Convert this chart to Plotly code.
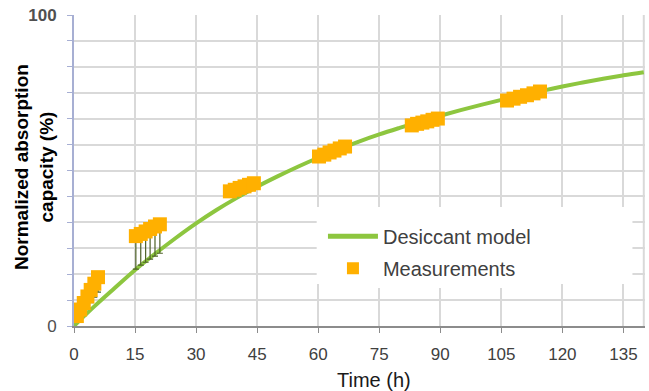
import plotly.graph_objects as go

# Desiccant model curve
model_t = [0, 5, 10, 15, 20, 25, 30, 35, 40, 45, 50, 55, 60, 65, 70, 75, 80,
           85, 90, 95, 100, 105, 110, 115, 120, 125, 130, 135, 140]
model_v = [0, 6.3, 12.2, 18.0, 23.3, 28.3, 33.0, 37.3, 41.2, 44.8, 48.1, 51.2,
           54.1, 56.8, 59.3, 61.6, 63.7, 65.7, 67.6, 69.4, 71.1, 72.7, 74.2,
           75.6, 77.0, 78.3, 79.5, 80.6, 81.6]

# Measurements
meas_t = [0.7, 1.5, 2.4, 3.3, 4.1, 5.0, 5.9,
          15.2, 16.4, 17.6, 18.7, 19.9, 21.1,
          38.3, 39.5, 40.7, 41.9, 43.0, 44.2,
          60.2, 61.5, 62.8, 64.0, 65.3, 66.6,
          83.0, 84.3, 85.6, 86.8, 88.1, 89.4,
          106.4, 108.0, 109.6, 111.3, 112.9, 114.5]
meas_v = [3.2, 5.3, 7.4, 9.5, 11.6, 13.6, 15.7,
          28.9, 29.6, 30.4, 31.2, 32.0, 32.7,
          43.3, 43.8, 44.4, 44.9, 45.4, 45.9,
          54.5, 55.1, 55.8, 56.4, 57.1, 57.7,
          64.5, 65.0, 65.4, 65.8, 66.3, 66.7,
          72.5, 73.1, 73.7, 74.2, 74.8, 75.4]
meas_err_minus = [0, 0, 0, 3.7, 4.1, 4.3, 4.8,
                  10.6, 10.0, 9.9, 9.7, 9.5, 9.3,
                  0, 0, 0, 0, 0, 0,
                  0, 0, 0, 0, 0, 0,
                  0, 0, 0, 0, 0, 0,
                  0, 0, 0, 0, 0, 0]

x_ticks = [0, 15, 30, 45, 60, 75, 90, 105, 120, 135]
y_tickvals = [0, 100]
y_ticktext = ["0", "<b>100</b>"]

GREEN = "#8DC63F"
ORANGE = "#FFB000"
GRID = "#D9D9D9"
FONT = "Liberation Sans, Arial, sans-serif"

fig = go.Figure()
fig.add_trace(go.Scatter(
    x=model_t, y=model_v, mode="lines", name="Desiccant model",
    legendgroup="model",
    line=dict(color=GREEN, width=4, shape="spline"),
))
fig.add_trace(go.Scatter(
    x=meas_t, y=meas_v, mode="markers", name="Measurements",
    legendgroup="meas",
    marker=dict(symbol="square", size=14, color=ORANGE),
    error_y=dict(type="data", symmetric=False, array=[0] * len(meas_t),
                 arrayminus=meas_err_minus, color="#4F6228",
                 thickness=1.2, width=3),
))

# right-hand border gridline
fig.add_shape(type="line", xref="x", yref="y", x0=140, x1=140, y0=0, y1=100,
              line=dict(color=GRID, width=2), layer="below")
# white legend background panel
fig.add_shape(type="rect", xref="paper", yref="paper",
              x0=0.425, x1=0.978, y0=0.135, y1=0.383,
              line=dict(width=0), fillcolor="white", layer="above")

fig.update_layout(
    width=649, height=391,
    margin=dict(l=74, r=4, t=15, b=65),
    plot_bgcolor="white", paper_bgcolor="white",
    font=dict(family=FONT, color="#404040"),
    showlegend=True,
    legend=dict(
        x=0.436, y=0.351, xanchor="left", yanchor="top",
        bgcolor="white", borderwidth=0,
        font=dict(size=20, color="#404040", family=FONT),
        itemwidth=50, itemsizing="constant", tracegroupgap=3,
    ),
    annotations=[
        dict(text="Time (h)", xref="paper", yref="paper", x=0.526, y=-0.174,
             xanchor="center", yanchor="middle", showarrow=False,
             font=dict(size=20, color="#1A1A1A", family=FONT)),
        dict(text="<b>Normalized absorption<br>capacity (%)</b>",
             xref="paper", yref="paper", x=-0.069, y=0.51, textangle=-90,
             xanchor="center", yanchor="middle", showarrow=False,
             font=dict(size=19, color="#000000", family=FONT)),
    ],
)

fig.update_xaxes(
    range=[0, 140.3], tickvals=x_ticks, showgrid=True, gridcolor=GRID, gridwidth=2,
    zeroline=False, showline=True, linecolor="#8C8C8C", linewidth=2,
    ticks="outside", ticklen=5, tickcolor="#8C8C8C", tickwidth=1,
    tickfont=dict(size=17, color="#404040", family=FONT),
    ticklabelstandoff=7, automargin=False, ticklabeloverflow="allow",
)
fig.update_yaxes(
    range=[0, 100], tickvals=y_tickvals, ticktext=y_ticktext,
    showgrid=True, gridcolor=GRID, gridwidth=2,
    zeroline=False, showline=True, linecolor="#A7AFD3", linewidth=2,
    ticks="outside", ticklen=5, tickcolor="#A7AFD3",
    tickfont=dict(size=17, color="#505050", family=FONT),
    ticklabelstandoff=7, automargin=False, ticklabeloverflow="allow",
    minor=dict(dtick=100 / 12, tick0=0, showgrid=True, gridcolor=GRID, gridwidth=2,
               ticks="outside", ticklen=5, tickcolor="#A7AFD3"),
)

# remove the browser's default 8px body margin so the figure fills the window
fig.write_html("out.html", config={"displayModeBar": False},
               post_script="document.body.style.margin='0';")
